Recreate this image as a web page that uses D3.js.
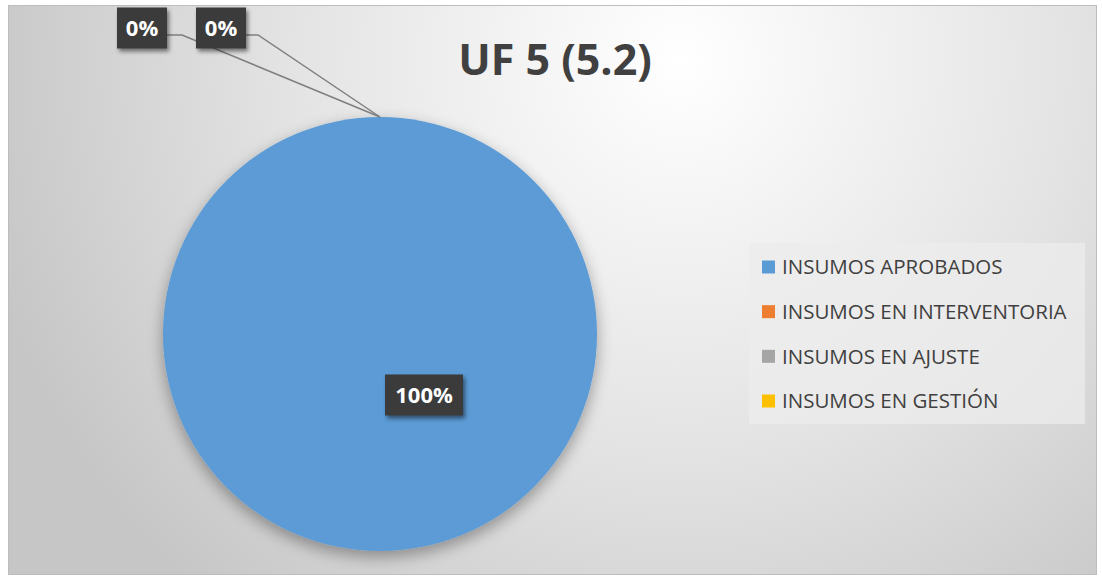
<!DOCTYPE html>
<html>
<head>
<meta charset="utf-8">
<script src="https://cdn.jsdelivr.net/npm/d3@7"></script>
<style>
  body { margin: 0; background: #fff; }
  svg { display: block; }
</style>
</head>
<body>
<div id="chart"></div>
<script>
// data
const categories = ["INSUMOS APROBADOS", "INSUMOS EN INTERVENTORIA", "INSUMOS EN AJUSTE", "INSUMOS EN GESTIÓN"];
const values = [100, 0, 0, 0];
const labels = ["100%", "0%", "0%", null];
const colors = ["#5B9BD5", "#ED7D31", "#A5A5A5", "#FFC000"];
const title = "UF 5 (5.2)";

const W = 1102, H = 577;
const frame = {x: 8, y: 5, w: 1089, h: 570};
const cx = 380, cy = 334, r = 217;

const svg = d3.select("#chart").append("svg")
  .attr("width", W).attr("height", H);

const defs = svg.append("defs");
const bg = defs.append("radialGradient").attr("id", "bg")
  .attr("gradientUnits", "userSpaceOnUse")
  .attr("cx", 680).attr("cy", 60).attr("r", 720);
bg.append("stop").attr("offset", "0%").attr("stop-color", "#ffffff");
bg.append("stop").attr("offset", "55%").attr("stop-color", "#e3e3e3");
bg.append("stop").attr("offset", "100%").attr("stop-color", "#c6c6c6");

const shadow = defs.append("filter").attr("id", "shadow")
  .attr("x", "-20%").attr("y", "-20%").attr("width", "140%").attr("height", "140%");
shadow.append("feGaussianBlur").attr("in", "SourceAlpha").attr("stdDeviation", 8);
shadow.append("feOffset").attr("dx", 0).attr("dy", 6).attr("result", "b");
shadow.append("feComponentTransfer").append("feFuncA").attr("type", "linear").attr("slope", 0.35);
const m = shadow.append("feMerge");
m.append("feMergeNode");
m.append("feMergeNode").attr("in", "SourceGraphic");

const boxShadow = defs.append("filter").attr("id", "boxShadow")
  .attr("x", "-30%").attr("y", "-30%").attr("width", "160%").attr("height", "160%");
boxShadow.append("feGaussianBlur").attr("in", "SourceAlpha").attr("stdDeviation", 2);
boxShadow.append("feOffset").attr("dx", 2).attr("dy", 3);
boxShadow.append("feComponentTransfer").append("feFuncA").attr("type", "linear").attr("slope", 0.5);
const m2 = boxShadow.append("feMerge");
m2.append("feMergeNode");
m2.append("feMergeNode").attr("in", "SourceGraphic");

const clip = defs.append("clipPath").attr("id", "frameClip");
clip.append("rect").attr("x", frame.x).attr("y", frame.y).attr("width", frame.w).attr("height", frame.h);

svg.append("rect")
  .attr("x", frame.x + 0.5).attr("y", frame.y + 0.5)
  .attr("width", frame.w - 1).attr("height", frame.h - 1)
  .attr("fill", "url(#bg)").attr("stroke", "#bdbdbd");

const g = svg.append("g").attr("clip-path", "url(#frameClip)");

// title
g.append("text")
  .attr("x", 555).attr("y", 75)
  .attr("text-anchor", "middle")
  .attr("font-family", "Open Sans, sans-serif")
  .attr("font-weight", "bold")
  .attr("font-size", 43)
  .attr("fill", "#404040")
  .text(title);

// pie
const pie = d3.pie().sort(null).value(d => d);
const arcs = pie(values);
const arc = d3.arc().innerRadius(0).outerRadius(r);

const pieG = g.append("g").attr("transform", `translate(${cx},${cy})`);
pieG.selectAll("path")
  .data(arcs)
  .join("path")
  .attr("d", arc)
  .attr("fill", (d, i) => colors[i])
  .attr("filter", "url(#shadow)");

// label placement (relative to pie center)
const labelPos = [
  {dx: 44, dy: 61},
  {dx: -238, dy: -306},
  {dx: -159, dy: -306}
];

const outer = d3.arc().innerRadius(r).outerRadius(r);

arcs.forEach((d, i) => {
  if (labels[i] == null) return;
  const p = labelPos[i];
  const big = d.value > 0;
  const fs = 22;
  const bw = big ? 78 : 50, bh = 41;
  const lx = cx + p.dx, ly = cy + p.dy;

  if (!big) {
    const [ax, ay] = outer.centroid(d);
    const sx = lx + bw / 2, sy = ly + 7;
    const elbow = i === 1 ? 15 : 12;
    g.append("polyline")
      .attr("points", [[sx, sy], [sx + elbow, sy], [cx + ax, cy + ay]].map(q => q.join(",")).join(" "))
      .attr("fill", "none")
      .attr("stroke", "#7f7f7f")
      .attr("stroke-width", 1.5);
  }

  g.append("rect")
    .attr("x", lx - bw / 2).attr("y", ly - bh / 2)
    .attr("width", bw).attr("height", bh)
    .attr("fill", "#3a3a3a")
    .attr("filter", "url(#boxShadow)");

  g.append("text")
    .attr("x", lx).attr("y", ly)
    .attr("dy", "0.36em")
    .attr("text-anchor", "middle")
    .attr("font-family", "Open Sans, sans-serif")
    .attr("font-weight", "bold")
    .attr("font-size", fs)
    .attr("fill", "#ffffff")
    .text(labels[i]);
});

// legend
const lg = g.append("g").attr("transform", "translate(749,243)");
lg.append("rect")
  .attr("width", 336).attr("height", 181)
  .attr("fill", "#ececec").attr("fill-opacity", 0.75);

const y = d3.scalePoint().domain(categories).range([24, 158]);

const items = lg.selectAll("g.item")
  .data(categories)
  .join("g")
  .attr("class", "item")
  .attr("transform", d => `translate(0,${y(d)})`);

items.append("rect")
  .attr("x", 13).attr("y", -6.5)
  .attr("width", 13).attr("height", 13)
  .attr("fill", (d, i) => colors[i]);

items.append("text")
  .attr("x", 33).attr("y", 0)
  .attr("dy", "0.36em")
  .attr("font-family", "Open Sans, sans-serif")
  .attr("font-size", 20.5)
  .attr("fill", "#404040")
  .text(d => d);
</script>
</body>
</html>
